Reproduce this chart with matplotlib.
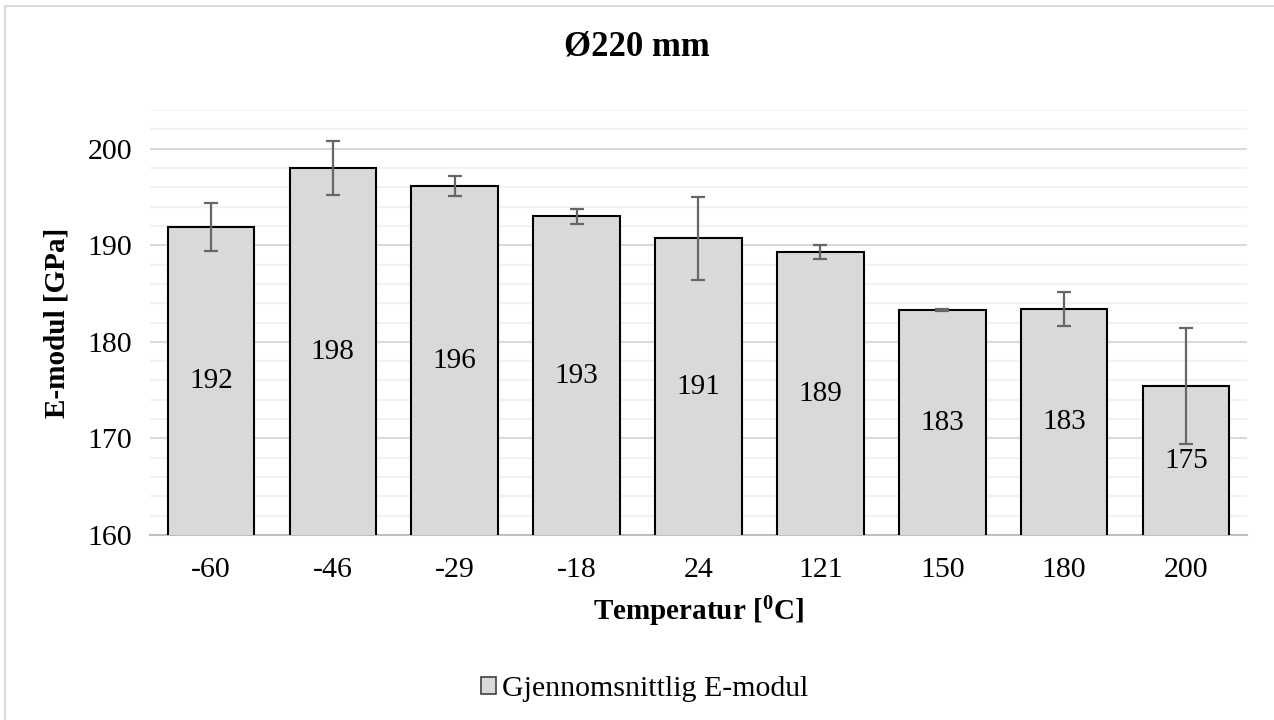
"""
E-modul vs temperatur, Ø220 mm
"""

import numpy as np
import matplotlib.pyplot as plt
from matplotlib.patches import Rectangle
from matplotlib.ticker import MultipleLocator

temperatures = ["-60", "-46", "-29", "-18", "24", "121", "150", "180", "200"]
e_modul = [191.9, 198.0, 196.1, 193.0, 190.7, 189.3, 183.25, 183.4, 175.4]
e_err = [2.45, 2.8, 1.05, 0.8, 4.25, 0.75, 0.1, 1.75, 6.0]


def plot_e_modul():
    plt.rcParams["font.family"] = ["Liberation Serif", "DejaVu Serif"]
    plt.rcParams["mathtext.fontset"] = "custom"
    plt.rcParams["mathtext.rm"] = "Liberation Serif"
    plt.rcParams["mathtext.bf"] = "Liberation Serif:bold"

    fig = plt.figure(figsize=(12.74, 7.2), dpi=100)
    ax = fig.add_axes([0.1177, 0.2569, 0.8611, 0.5903])

    # light frame of the chart area (runs off the right and bottom edges)
    fig.patches.append(Rectangle((5 / 1274, -0.1), 1.2, 1.1 - 6 / 720,
                                 transform=fig.transFigure, fill=False,
                                 edgecolor="#D9D9D9", linewidth=1.5))

    x = np.arange(len(temperatures))
    ax.bar(x, e_modul, width=0.71, color="#D9D9D9", edgecolor="black",
           linewidth=1.5, label="Gjennomsnittlig E-modul", zorder=3)
    ax.errorbar(x, e_modul, yerr=e_err, fmt="none", ecolor="#666666",
                elinewidth=1.6, capsize=5, capthick=1.6, zorder=4)

    for xi, v in zip(x, e_modul):
        ax.text(xi, (160 + v) / 2, f"{v:.0f}", ha="center", va="center",
                fontsize=21, zorder=5)

    ax.set_ylim(160, 204)
    ax.set_xlim(-0.5, len(temperatures) - 0.5)
    ax.yaxis.set_major_locator(MultipleLocator(10))
    ax.yaxis.set_minor_locator(MultipleLocator(2))
    ax.set_yticks([160, 170, 180, 190, 200])
    ax.grid(axis="y", which="major", color="#D9D9D9", linewidth=1.5, zorder=0)
    ax.grid(axis="y", which="minor", color="#F2F2F2", linewidth=1.5, zorder=0)
    ax.set_axisbelow(True)

    ax.set_xticks(x)
    ax.set_xticklabels(temperatures)
    ax.tick_params(axis="both", which="both", length=0, labelsize=21.5)
    ax.tick_params(axis="x", pad=16)
    ax.tick_params(axis="y", pad=13)

    for side in ["top", "right", "left"]:
        ax.spines[side].set_visible(False)
    ax.spines["bottom"].set_color("#BFBFBF")
    ax.spines["bottom"].set_linewidth(1.5)
    ax.spines["bottom"].set_zorder(2)

    fig.text(0.5, 1 - 47 / 720, "Ø220 mm", ha="center", va="center",
             fontsize=25, fontweight="bold")
    ax.set_xlabel(r"Temperatur [$\mathbf{^0}$C]", fontsize=21, fontweight="bold", labelpad=8)
    ax.set_ylabel("E-modul [GPa]", fontsize=21, fontweight="bold", labelpad=12)

    marker = Rectangle((0, 0), 1, 1, facecolor="#D9D9D9", edgecolor="#404040", linewidth=1.2)
    fig.legend(handles=[marker], labels=["Gjennomsnittlig E-modul"], loc="center",
               bbox_to_anchor=(645 / 1274, 1 - 689 / 720), frameon=False, fontsize=21.5,
               handlelength=0.5, handleheight=0.5, handletextpad=0.2)

    fig.savefig("out.png", dpi=100)


if __name__ == "__main__":
    plot_e_modul()
